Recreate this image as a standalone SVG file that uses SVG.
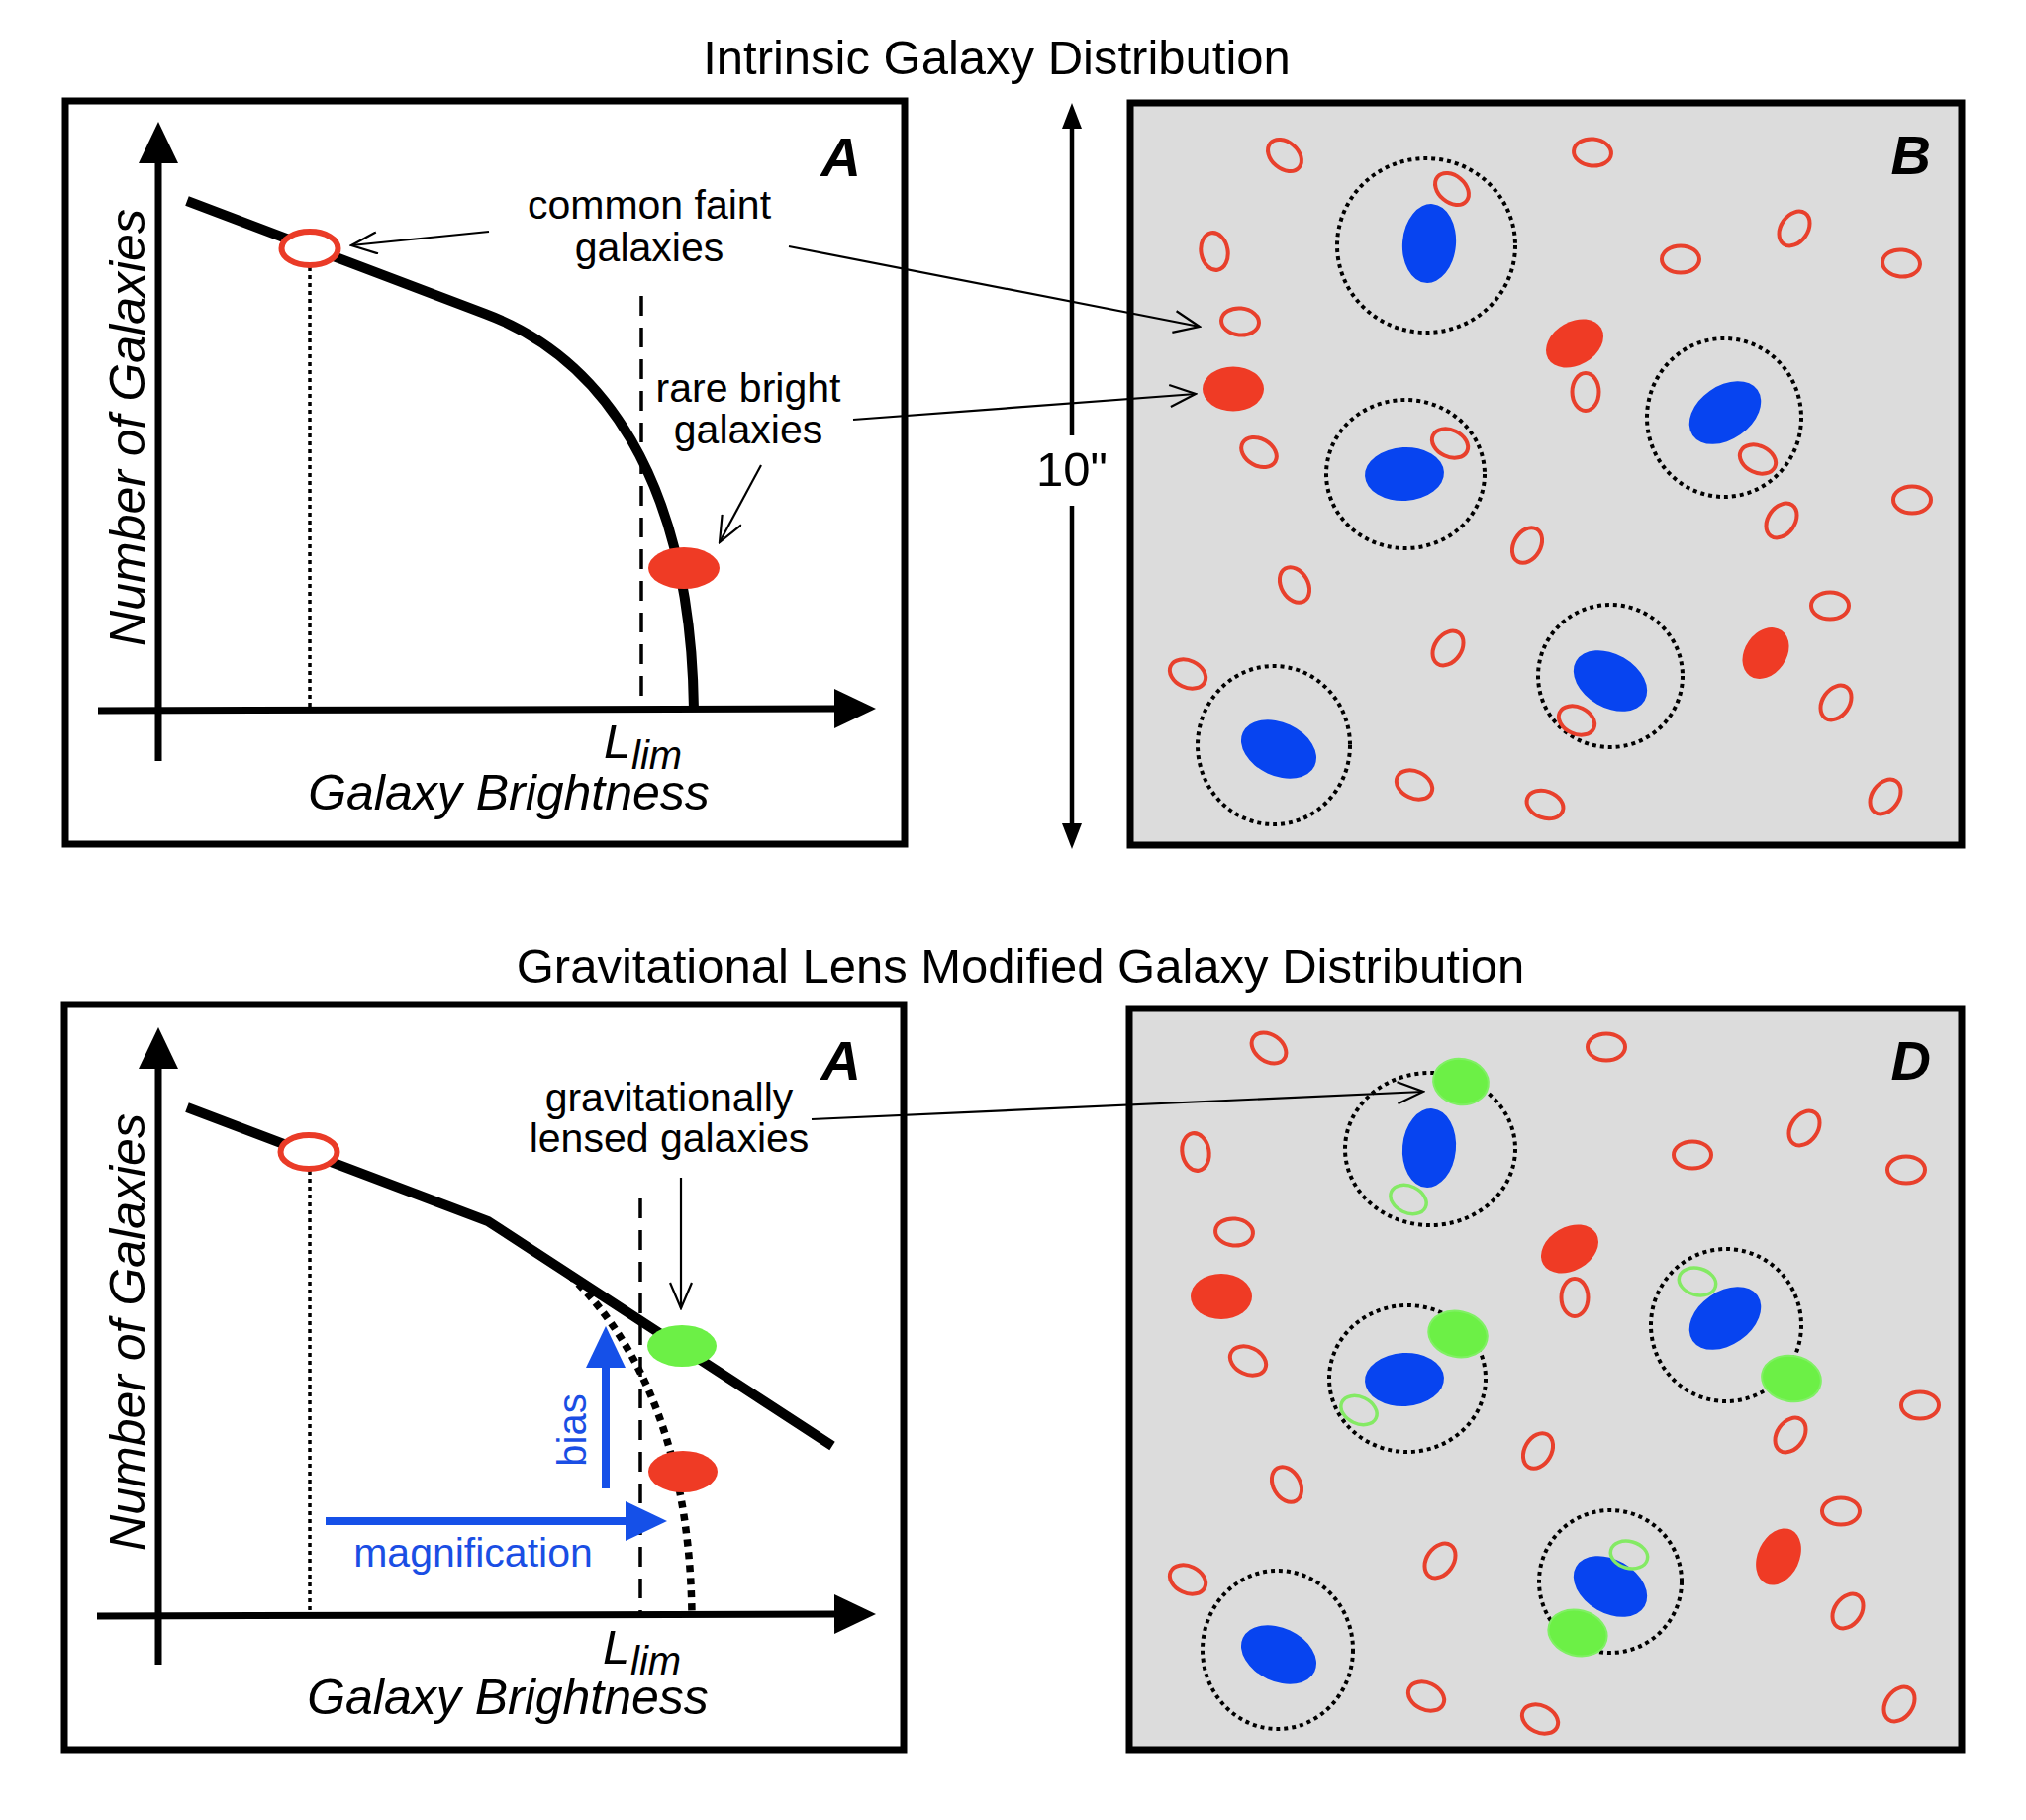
<svg xmlns="http://www.w3.org/2000/svg" width="2047" height="1839" viewBox="0 0 2047 1839">
<style>
.t{font-family:"Liberation Sans",Arial,Helvetica,sans-serif;fill:#000}
.title{font-size:49px;text-anchor:middle}
.lbl{font-size:41px;text-anchor:middle}
.ax{font-size:50px;font-style:italic;text-anchor:middle}
.pl{font-size:56px;font-style:italic;font-weight:bold;text-anchor:end}
.blue{fill:#1a4ee4}
.box{fill:#fff;stroke:#000;stroke-width:7}
.sky{fill:#dcdcdc;stroke:#000;stroke-width:7}
.axis{stroke:#000;stroke-width:7;fill:none}
.curve{stroke:#000;stroke-width:10;fill:none}
.ro{fill:none;stroke:#e8402c;stroke-width:4}
.rf{fill:#ef3b25}
.bl{fill:#0744f0}
.gf{fill:#6cf046;stroke:#80f064;stroke-width:2}
.go{fill:none;stroke:#84ea64;stroke-width:3.5}
.halo{fill:none;stroke:#000;stroke-width:4;stroke-dasharray:4 4}
.thin{stroke:#000;stroke-width:2.2;fill:none}
.dot{stroke:#000;stroke-width:3.5;stroke-dasharray:4 4;fill:none}
.dash{stroke:#000;stroke-width:3.5;stroke-dasharray:20 12;fill:none}
.barrow{stroke:#1550e8;stroke-width:8;fill:none}
</style>
<defs>
<marker id="open" viewBox="0 0 30 24" refX="28" refY="12" markerWidth="30" markerHeight="24" markerUnits="userSpaceOnUse" orient="auto"><path d="M2,1 L28,12 L2,23" fill="none" stroke="#000" stroke-width="2.2"/></marker>
<marker id="tri" viewBox="0 0 42 40" refX="0" refY="20" markerWidth="42" markerHeight="40" markerUnits="userSpaceOnUse" orient="auto"><path d="M0,0 L42,20 L0,40 Z" fill="#000"/></marker>
<marker id="tris" viewBox="0 0 26 20" refX="0" refY="10" markerWidth="26" markerHeight="20" markerUnits="userSpaceOnUse" orient="auto"><path d="M0,0 L26,10 L0,20 Z" fill="#000"/></marker>
<marker id="btri" viewBox="0 0 42 40" refX="0" refY="20" markerWidth="42" markerHeight="40" markerUnits="userSpaceOnUse" orient="auto"><path d="M0,0 L42,20 L0,40 Z" fill="#1550e8"/></marker>
</defs>
<rect width="2047" height="1839" fill="#fff"/>

<g id="titles">
<text class="t title" x="1007" y="75">Intrinsic Galaxy Distribution</text>
<text class="t title" x="1031" y="993">Gravitational Lens Modified Galaxy Distribution</text>
</g>

<g id="panelA">
<rect class="box" x="66" y="102" width="848" height="751"/>
<text class="t pl" x="870" y="178">A</text>
<line class="axis" x1="160" y1="769" x2="160" y2="165" marker-end="url(#tri)"/>
<line class="axis" x1="99" y1="718" x2="843" y2="716" marker-end="url(#tri)"/>
<line class="dot" x1="313" y1="270" x2="313" y2="714"/>
<line class="dash" x1="648" y1="299" x2="648" y2="714"/>
<path class="curve" d="M189,203 L490,317 C605,360 698,480 701,717"/>
<ellipse cx="313" cy="251" rx="28.5" ry="17" fill="#fff" stroke="#ea3b27" stroke-width="6"/>
<ellipse class="rf" cx="691" cy="574" rx="36" ry="21"/>
<text class="t ax" transform="translate(146,432) rotate(-90)">Number of Galaxies</text>
<text class="t ax" x="514" y="818">Galaxy Brightness</text>
<text class="t" x="610" y="766" font-size="49" font-style="italic">L</text>
<text class="t" x="638" y="777" font-size="40" font-style="italic">lim</text>
<text class="t lbl" x="656" y="221">common faint</text>
<text class="t lbl" x="656" y="264">galaxies</text>
<text class="t lbl" x="756" y="406">rare bright</text>
<text class="t lbl" x="756" y="448">galaxies</text>
</g>

<g id="scale10">
<line x1="1083" y1="440" x2="1083" y2="130" stroke="#000" stroke-width="4.5" marker-end="url(#tris)"/>
<line x1="1083" y1="511" x2="1083" y2="832" stroke="#000" stroke-width="4.5" marker-end="url(#tris)"/>
<text class="t" x="1083" y="491" font-size="49" text-anchor="middle">10"</text>
</g>

<g id="panelB">
<rect class="sky" x="1142" y="104" width="840" height="750"/>
<text class="t pl" x="1951" y="176">B</text>
<ellipse class="halo" cx="1441" cy="248" rx="90" ry="88"/>
<ellipse class="halo" cx="1420" cy="479" rx="80" ry="75"/>
<ellipse class="halo" cx="1742" cy="422" rx="78" ry="80"/>
<ellipse class="halo" cx="1627" cy="683" rx="73" ry="72"/>
<ellipse class="halo" cx="1287" cy="753" rx="77" ry="80"/>
<ellipse class="bl" cx="1444" cy="246" rx="27" ry="40" transform="rotate(5 1444 246)"/>
<ellipse class="bl" cx="1419" cy="479" rx="40" ry="27" transform="rotate(-3 1419 479)"/>
<ellipse class="bl" cx="1743" cy="417" rx="40" ry="27" transform="rotate(-35 1743 417)"/>
<ellipse class="bl" cx="1627" cy="688" rx="40" ry="27" transform="rotate(30 1627 688)"/>
<ellipse class="bl" cx="1292" cy="757" rx="40" ry="27" transform="rotate(25 1292 757)"/>
<ellipse class="rf" cx="1246" cy="393" rx="31" ry="22.5"/>
<ellipse class="rf" cx="1591" cy="347" rx="31" ry="22" transform="rotate(-30 1591 347)"/>
<ellipse class="rf" cx="1784" cy="660" rx="28" ry="21" transform="rotate(-55 1784 660)"/>
<g class="ro">
<ellipse cx="1298" cy="157" rx="19" ry="13.5" transform="rotate(40 1298 157)"/>
<ellipse cx="1609" cy="154" rx="19" ry="13.5" transform="rotate(5 1609 154)"/>
<ellipse cx="1467" cy="191" rx="19" ry="13.5" transform="rotate(40 1467 191)"/>
<ellipse cx="1227" cy="254" rx="19" ry="13.5" transform="rotate(80 1227 254)"/>
<ellipse cx="1813" cy="231" rx="19" ry="13.5" transform="rotate(-55 1813 231)"/>
<ellipse cx="1698" cy="262" rx="19" ry="13.5"/>
<ellipse cx="1921" cy="266" rx="19" ry="13.5" transform="rotate(5 1921 266)"/>
<ellipse cx="1253" cy="325" rx="19" ry="13.5" transform="rotate(5 1253 325)"/>
<ellipse cx="1602" cy="396" rx="19" ry="13.5" transform="rotate(90 1602 396)"/>
<ellipse cx="1272" cy="457" rx="19" ry="13.5" transform="rotate(30 1272 457)"/>
<ellipse cx="1465" cy="448" rx="19" ry="13.5" transform="rotate(25 1465 448)"/>
<ellipse cx="1776" cy="464" rx="19" ry="13.5" transform="rotate(25 1776 464)"/>
<ellipse cx="1932" cy="505" rx="19" ry="13.5"/>
<ellipse cx="1800" cy="526" rx="19" ry="13.5" transform="rotate(-55 1800 526)"/>
<ellipse cx="1543" cy="551" rx="19" ry="13.5" transform="rotate(-60 1543 551)"/>
<ellipse cx="1308" cy="591" rx="19" ry="13.5" transform="rotate(60 1308 591)"/>
<ellipse cx="1849" cy="612" rx="19" ry="13.5"/>
<ellipse cx="1463" cy="655" rx="19" ry="13.5" transform="rotate(-55 1463 655)"/>
<ellipse cx="1200" cy="681" rx="19" ry="13.5" transform="rotate(25 1200 681)"/>
<ellipse cx="1855" cy="710" rx="19" ry="13.5" transform="rotate(-55 1855 710)"/>
<ellipse cx="1593" cy="728" rx="19" ry="13.5" transform="rotate(25 1593 728)"/>
<ellipse cx="1429" cy="793" rx="19" ry="13.5" transform="rotate(25 1429 793)"/>
<ellipse cx="1561" cy="813" rx="19" ry="13.5" transform="rotate(20 1561 813)"/>
<ellipse cx="1905" cy="805" rx="19" ry="13.5" transform="rotate(-55 1905 805)"/>
</g>
</g>

<g id="panelC">
<rect class="box" x="65" y="1015" width="848" height="753"/>
<text class="t pl" x="870" y="1091">A</text>
<line class="axis" x1="160" y1="1682" x2="160" y2="1080" marker-end="url(#tri)"/>
<line class="axis" x1="98" y1="1633" x2="843" y2="1631" marker-end="url(#tri)"/>
<line class="dot" x1="313" y1="1183" x2="313" y2="1629"/>
<line class="dash" x1="647" y1="1211" x2="647" y2="1629"/>
<path d="M575,1288 C630,1340 696,1440 699,1630" stroke="#000" stroke-width="7.5" stroke-dasharray="7 6" fill="none"/>
<path class="curve" d="M189,1119 L493,1234 L841,1461"/>
<ellipse cx="312" cy="1164" rx="28.5" ry="17" fill="#fff" stroke="#ea3b27" stroke-width="6"/>
<ellipse cx="689" cy="1360" rx="35" ry="21" fill="#6cf046"/>
<ellipse class="rf" cx="690" cy="1487" rx="35" ry="21"/>
<line class="barrow" x1="612" y1="1504" x2="612" y2="1382" marker-end="url(#btri)"/>
<line class="barrow" x1="329" y1="1537" x2="632" y2="1537" marker-end="url(#btri)"/>
<text class="t blue" transform="translate(592,1445) rotate(-90)" font-size="40" text-anchor="middle">bias</text>
<text class="t blue" x="478" y="1583" font-size="41" text-anchor="middle">magnification</text>
<text class="t ax" transform="translate(146,1346) rotate(-90)">Number of Galaxies</text>
<text class="t ax" x="513" y="1732">Galaxy Brightness</text>
<text class="t" x="609" y="1681" font-size="49" font-style="italic">L</text>
<text class="t" x="637" y="1692" font-size="40" font-style="italic">lim</text>
<text class="t lbl" x="676" y="1123">gravitationally</text>
<text class="t lbl" x="676" y="1164">lensed galaxies</text>
</g>

<g id="panelD">
<rect class="sky" x="1141" y="1019" width="841" height="749"/>
<text class="t pl" x="1951" y="1091">D</text>
<ellipse class="halo" cx="1445" cy="1161" rx="86" ry="77"/>
<ellipse class="halo" cx="1422" cy="1393" rx="79" ry="74"/>
<ellipse class="halo" cx="1744" cy="1339" rx="76" ry="77"/>
<ellipse class="halo" cx="1627" cy="1598" rx="72" ry="72"/>
<ellipse class="halo" cx="1291" cy="1667" rx="76" ry="80"/>
<ellipse class="bl" cx="1444" cy="1160" rx="27" ry="40" transform="rotate(5 1444 1160)"/>
<ellipse class="bl" cx="1419" cy="1394" rx="40" ry="27" transform="rotate(-3 1419 1394)"/>
<ellipse class="bl" cx="1743" cy="1332" rx="40" ry="27" transform="rotate(-35 1743 1332)"/>
<ellipse class="bl" cx="1627" cy="1603" rx="40" ry="27" transform="rotate(30 1627 1603)"/>
<ellipse class="bl" cx="1292" cy="1672" rx="40" ry="27" transform="rotate(25 1292 1672)"/>
<ellipse class="rf" cx="1234" cy="1310" rx="31" ry="23"/>
<ellipse class="rf" cx="1586" cy="1262" rx="31" ry="22" transform="rotate(-30 1586 1262)"/>
<ellipse class="rf" cx="1797" cy="1573" rx="30" ry="21" transform="rotate(-65 1797 1573)"/>
<ellipse class="gf" cx="1476" cy="1093" rx="28" ry="23" transform="rotate(10 1476 1093)"/>
<ellipse class="gf" cx="1473" cy="1348" rx="30" ry="23" transform="rotate(12 1473 1348)"/>
<ellipse class="gf" cx="1810" cy="1393" rx="30" ry="23" transform="rotate(10 1810 1393)"/>
<ellipse class="gf" cx="1594" cy="1650" rx="30" ry="23" transform="rotate(15 1594 1650)"/>
<g class="go">
<ellipse cx="1423" cy="1212" rx="19" ry="13.5" transform="rotate(25 1423 1212)"/>
<ellipse cx="1373" cy="1425" rx="19" ry="13.5" transform="rotate(25 1373 1425)"/>
<ellipse cx="1715" cy="1295" rx="19" ry="13.5" transform="rotate(15 1715 1295)"/>
<ellipse cx="1646" cy="1571" rx="19" ry="13.5" transform="rotate(15 1646 1571)"/>
</g>
<g class="ro">
<ellipse cx="1282" cy="1059" rx="19" ry="13.5" transform="rotate(35 1282 1059)"/>
<ellipse cx="1623" cy="1058" rx="19" ry="13.5"/>
<ellipse cx="1208" cy="1164" rx="19" ry="13.5" transform="rotate(80 1208 1164)"/>
<ellipse cx="1823" cy="1140" rx="19" ry="13.5" transform="rotate(-55 1823 1140)"/>
<ellipse cx="1710" cy="1167" rx="19" ry="13.5"/>
<ellipse cx="1926" cy="1182" rx="19" ry="13.5"/>
<ellipse cx="1247" cy="1245" rx="19" ry="13.5" transform="rotate(5 1247 1245)"/>
<ellipse cx="1591" cy="1311" rx="19" ry="13.5" transform="rotate(90 1591 1311)"/>
<ellipse cx="1261" cy="1375" rx="19" ry="13.5" transform="rotate(25 1261 1375)"/>
<ellipse cx="1940" cy="1420" rx="19" ry="13.5"/>
<ellipse cx="1809" cy="1450" rx="19" ry="13.5" transform="rotate(-55 1809 1450)"/>
<ellipse cx="1554" cy="1466" rx="19" ry="13.5" transform="rotate(-60 1554 1466)"/>
<ellipse cx="1300" cy="1500" rx="19" ry="13.5" transform="rotate(60 1300 1500)"/>
<ellipse cx="1860" cy="1527" rx="19" ry="13.5"/>
<ellipse cx="1455" cy="1577" rx="19" ry="13.5" transform="rotate(-55 1455 1577)"/>
<ellipse cx="1200" cy="1596" rx="19" ry="13.5" transform="rotate(25 1200 1596)"/>
<ellipse cx="1867" cy="1628" rx="19" ry="13.5" transform="rotate(-55 1867 1628)"/>
<ellipse cx="1441" cy="1714" rx="19" ry="13.5" transform="rotate(25 1441 1714)"/>
<ellipse cx="1556" cy="1737" rx="19" ry="13.5" transform="rotate(25 1556 1737)"/>
<ellipse cx="1919" cy="1722" rx="19" ry="13.5" transform="rotate(-55 1919 1722)"/>
</g>
</g>

<g id="connectors">
<line class="thin" x1="494" y1="234" x2="355" y2="248" marker-end="url(#open)"/>
<line class="thin" x1="797" y1="249" x2="1212" y2="330" marker-end="url(#open)"/>
<line class="thin" x1="862" y1="424" x2="1208" y2="398" marker-end="url(#open)"/>
<line class="thin" x1="769" y1="470" x2="727" y2="548" marker-end="url(#open)"/>
<line class="thin" x1="688" y1="1190" x2="688" y2="1322" marker-end="url(#open)"/>
<line class="thin" x1="820" y1="1131" x2="1438" y2="1103" marker-end="url(#open)"/>
</g>
</svg>
